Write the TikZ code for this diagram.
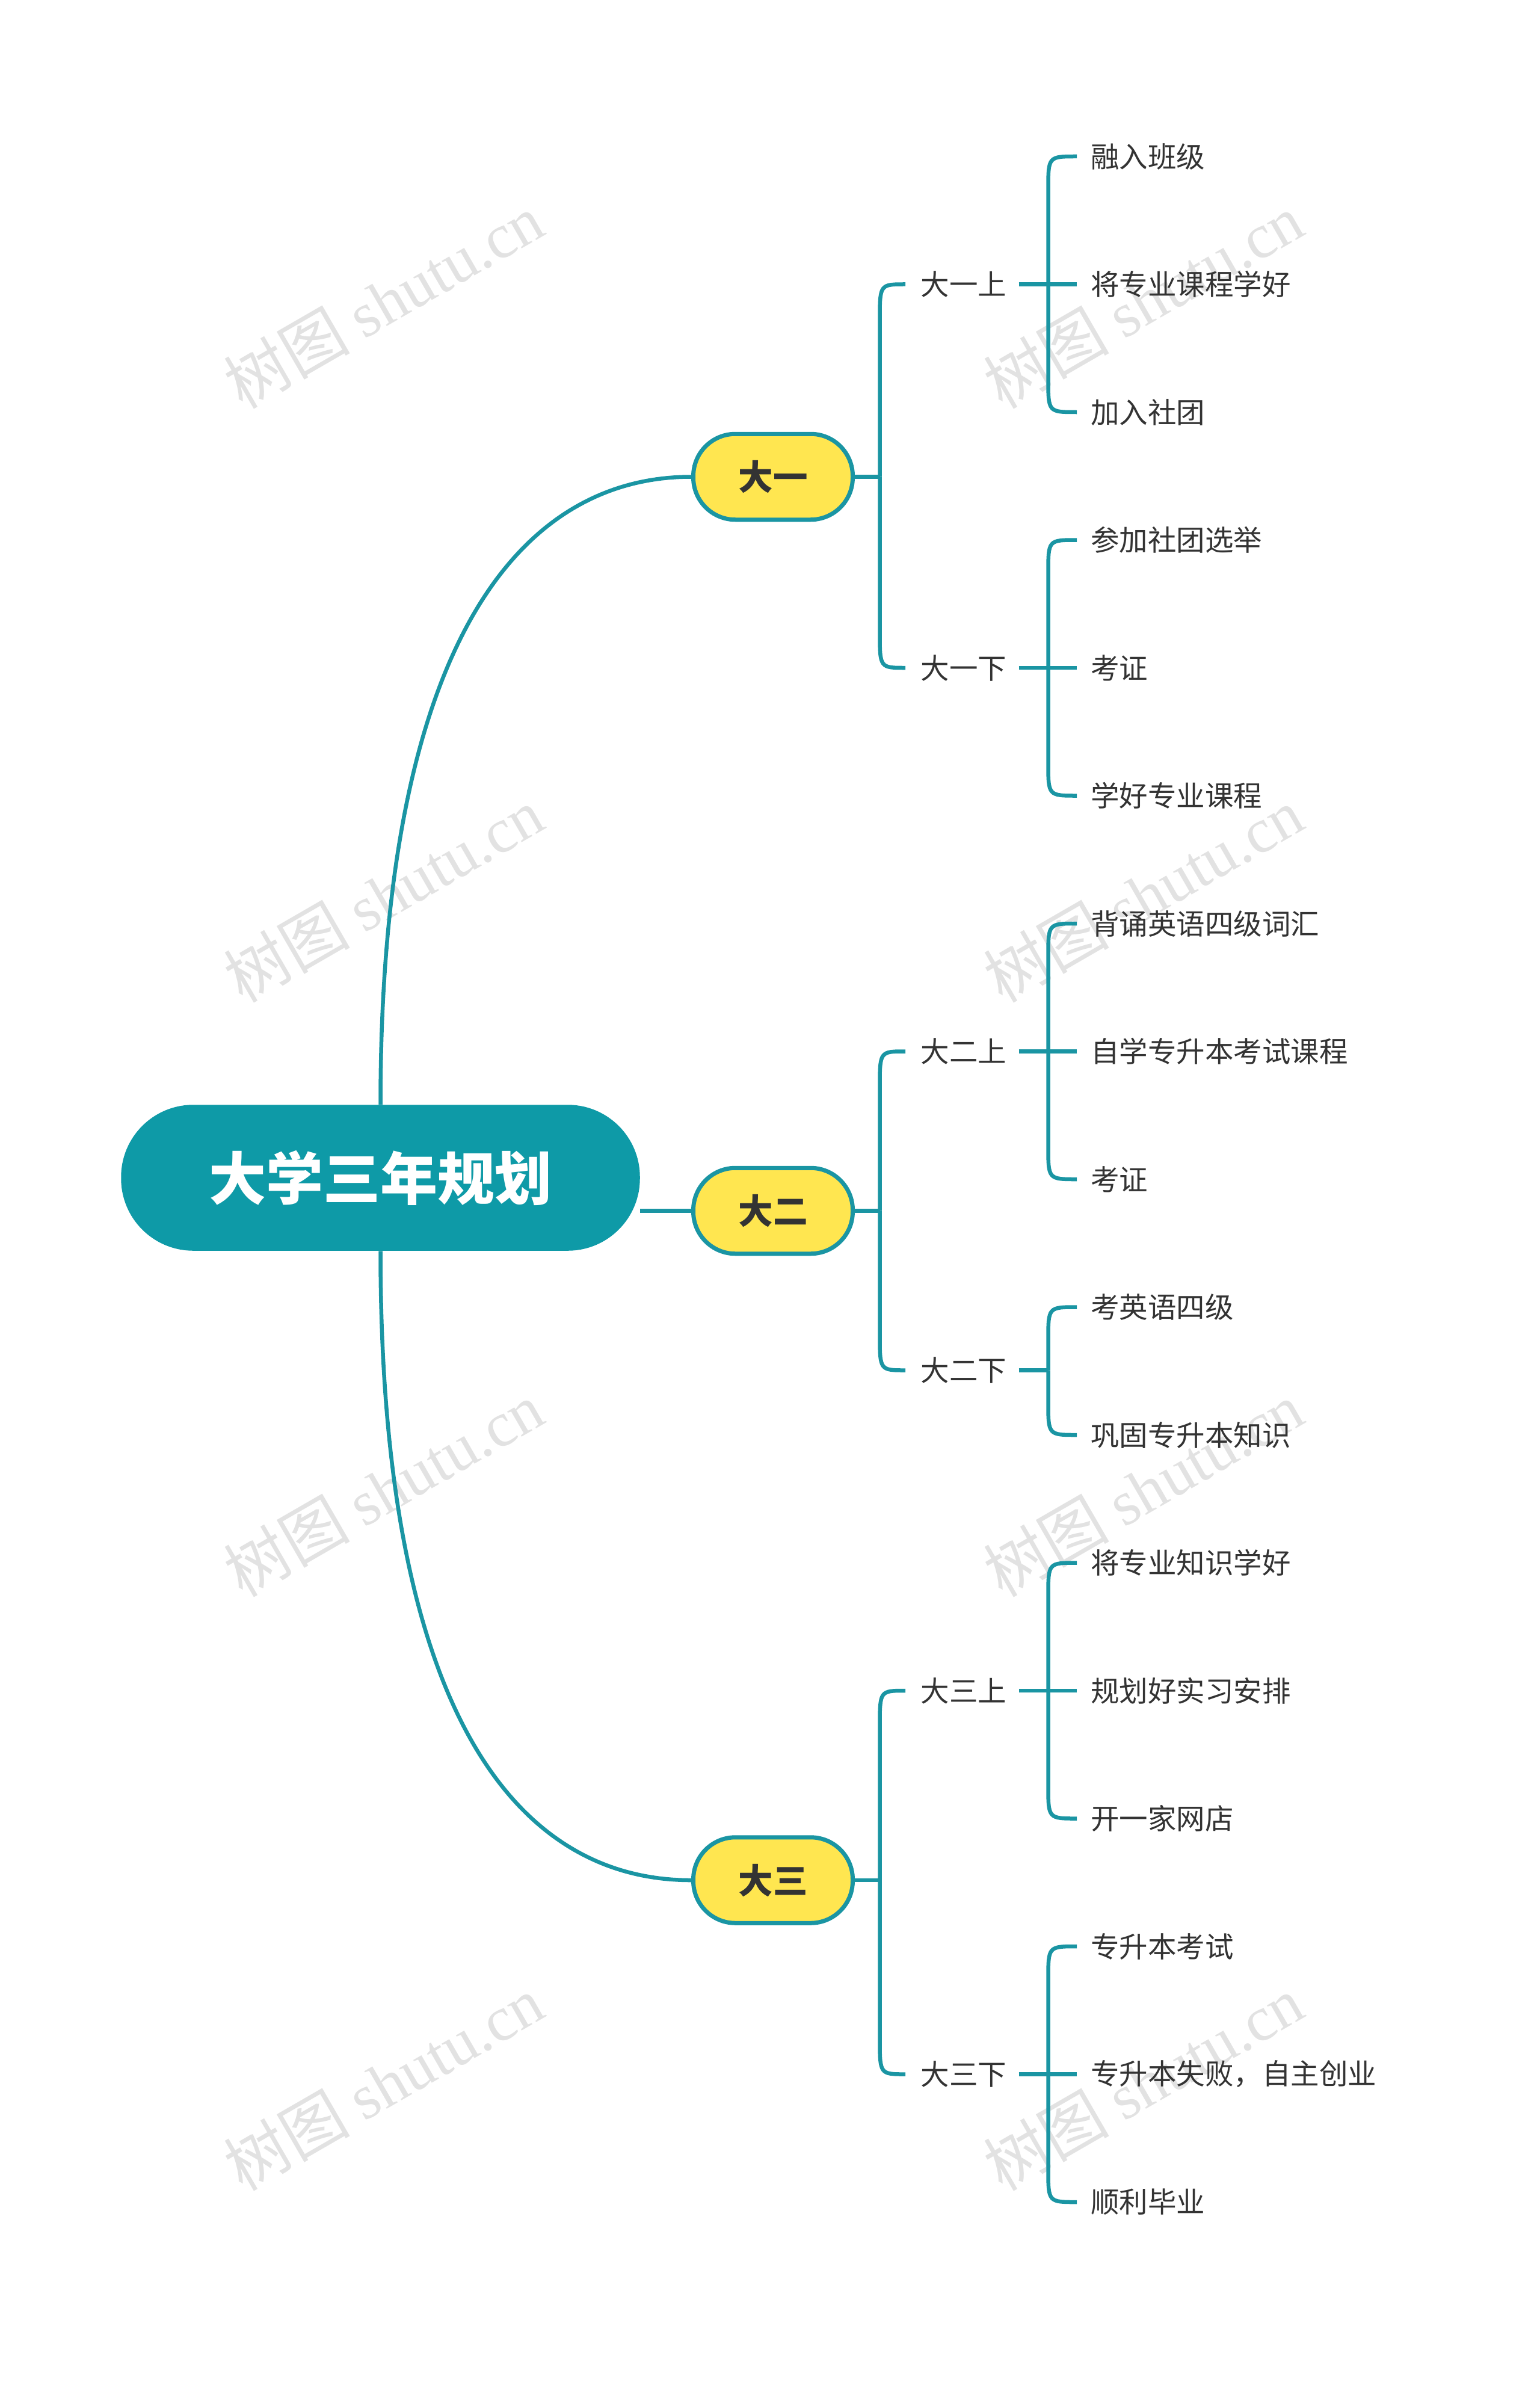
\documentclass[tikz,border=0pt]{standalone}
\usepackage{fontspec}
\setmainfont{Noto Sans CJK SC}
\newfontfamily\wmserif{Liberation Serif}
\definecolor{teal1}{HTML}{0E9AA7}
\definecolor{lin}{HTML}{1A95A3}
\definecolor{yel}{HTML}{FFE650}
\definecolor{txt}{HTML}{333333}
\definecolor{wm}{HTML}{E2E2E2}
\begin{document}
\begin{tikzpicture}[x=1pt,y=-1pt,
  conn/.style={draw=lin,line width=2.6pt},
  rootbox/.style={fill=teal1,rounded corners=48pt,minimum width=345pt,minimum height=97pt,text=white,font=\fontsize{38}{40}\selectfont\bfseries},
  lone/.style={fill=yel,draw=lin,line width=2.8pt,rounded corners=28pt,minimum width=106pt,minimum height=57pt,text=txt,font=\fontsize{23}{26}\selectfont\bfseries},
  ltwo/.style={text=txt,anchor=west,inner sep=0pt,font=\fontsize{19}{22}\selectfont},
  lthree/.style={text=txt,anchor=west,inner sep=0pt,font=\fontsize{19}{22}\selectfont},
  wmk/.style={text=wm,rotate=30,font=\fontsize{42}{46}\selectfont}]
\useasboundingbox (0,0) rectangle (1024,1591.6);
% watermarks
\foreach \x in {255,760}{\foreach \y in {200,595,990,1385}{
  \node[wmk] at (\x,\y) {树图 {\wmserif shutu.cn}};}}
\node[rootbox] (root) at (253,783) {大学三年规划};
\node[lone] (a) at (514,317) {大一};
\node[lone] (b) at (514,805) {大二};
\node[lone] (c) at (514,1250) {大三};
\draw[conn] (root.north) .. controls (253,420) and (350,317) .. (a.west);
\draw[conn] (root.east|-b.west) -- (b.west);
\draw[conn] (root.south) .. controls (253,1150) and (350,1250) .. (c.west);
% level 2
\newcommand\bracket[5]{%
  \draw[conn] (#1.east|-0,#4) -- (#2,#4);
  \foreach \yc in {#5}{
    \pgfmathsetmacro\d{\yc<#4 ? 24 : (\yc>#4 ? -24 : 0)}
    \ifdim\d pt=0pt \draw[conn] (#2,#4) -- (#3,\yc);
    \else \draw[conn] (#2,#4) -- (#2,\yc+\d) .. controls (#2,\yc) .. (#3,\yc); \fi}}
\node[ltwo] (a1) at (612,189) {大一上};
\node[ltwo] (a2) at (612,444) {大一下};
\node[ltwo] (b1) at (612,699) {大二上};
\node[ltwo] (b2) at (612,911) {大二下};
\node[ltwo] (c1) at (612,1124) {大三上};
\node[ltwo] (c2) at (612,1379) {大三下};
\bracket{a}{585}{602}{317}{189,444}
\bracket{b}{585}{602}{805}{699,911}
\bracket{c}{585}{602}{1250}{1124,1379}
% level 3
\node[lthree] (a11) at (725,104) {融入班级};
\node[lthree] (a12) at (725,189) {将专业课程学好};
\node[lthree] (a13) at (725,274) {加入社团};
\node[lthree] (a21) at (725,359) {参加社团选举};
\node[lthree] (a22) at (725,444) {考证};
\node[lthree] (a23) at (725,529) {学好专业课程};
\node[lthree] (b11) at (725,614) {背诵英语四级词汇};
\node[lthree] (b12) at (725,699) {自学专升本考试课程};
\node[lthree] (b13) at (725,784) {考证};
\node[lthree] (b21) at (725,869) {考英语四级};
\node[lthree] (b22) at (725,954) {巩固专升本知识};
\node[lthree] (c11) at (725,1039) {将专业知识学好};
\node[lthree] (c12) at (725,1124) {规划好实习安排};
\node[lthree] (c13) at (725,1209) {开一家网店};
\node[lthree] (c21) at (725,1294) {专升本考试};
\node[lthree] (c22) at (725,1379) {专升本失败，自主创业};
\node[lthree] (c23) at (725,1464) {顺利毕业};
\newcommand\brk[4]{%
  \draw[conn] ([xshift=8pt]#1.east) -- (697,#2);
  \foreach \yc in {#3}{
    \pgfmathsetmacro\d{\yc<#2 ? 22 : (\yc>#2 ? -22 : 0)}
    \ifdim\d pt=0pt \draw[conn] (697,#2) -- (716,\yc);
    \else \draw[conn] (697,#2) -- (697,\yc+\d) .. controls (697,\yc) .. (716,\yc); \fi}}
\brk{a1}{189}{104,189,274}{}
\brk{a2}{444}{359,444,529}{}
\brk{b1}{699}{614,699,784}{}
\brk{b2}{911}{869,954}{}
\brk{c1}{1124}{1039,1124,1209}{}
\brk{c2}{1379}{1294,1379,1464}{}
\end{tikzpicture}
\end{document}
